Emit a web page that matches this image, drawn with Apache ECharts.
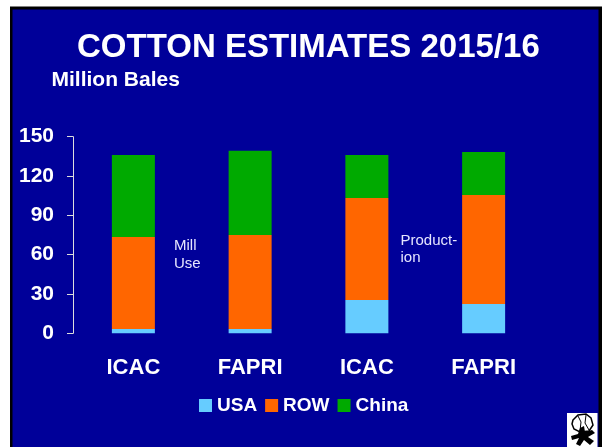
<!DOCTYPE html>
<html>
<head>
<meta charset="utf-8">
<script src="https://cdn.jsdelivr.net/npm/echarts@6/dist/echarts.min.js"></script>
<style>
html,body{margin:0;padding:0;background:#fff;}
#c{width:602px;height:447px;}
</style>
</head>
<body>
<div id="c"></div>
<script>
var categories = ['ICAC', 'FAPRI', 'ICAC', 'FAPRI'];
var usa = [3.3, 3.3, 25.4, 22.4];
var row = [70.2, 71.7, 77.9, 83.2];
var china = [62.5, 64.2, 32.7, 32.8];
var yTicks = [0, 30, 60, 90, 120, 150];

var FONT = '"Liberation Sans", Arial, sans-serif';
var chart = echarts.init(document.getElementById('c'), null, {renderer: 'canvas'});

var option = {
  backgroundColor: '#ffffff',
  animation: false,
  title: [
    {text: 'COTTON ESTIMATES 2015/16', left: 72, top: 26, padding: 5,
     textStyle: {color: '#ffffff', fontFamily: FONT, fontWeight: 'bold', fontSize: 33}},
    {text: 'Million Bales', left: 46.5, top: 65, padding: 5,
     textStyle: {color: '#ffffff', fontFamily: FONT, fontWeight: 'bold', fontSize: 21}}
  ],
  legend: {
    left: 194, top: 391, padding: 5,
    itemWidth: 13, itemHeight: 13, itemGap: 8,
    icon: 'rect',
    textStyle: {color: '#ffffff', fontFamily: FONT, fontWeight: 'bold', fontSize: 19, padding: [0, 0, 0, 0]},
    data: ['USA', 'ROW', 'China']
  },
  grid: {left: 75, width: 467, top: 136.7, height: 196.6, containLabel: false},
  xAxis: {
    type: 'category',
    data: categories,
    axisLine: {show: false},
    axisTick: {show: false},
    axisLabel: {color: '#ffffff', fontFamily: FONT, fontWeight: 'bold', fontSize: 22, margin: 24}
  },
  yAxis: {
    type: 'value',
    min: 0, max: 150, interval: 30,
    offset: 2,
    axisLine: {show: true, lineStyle: {color: '#dddddd', width: 1}},
    axisTick: {show: true, length: 6, lineStyle: {color: '#dddddd'}},
    splitLine: {show: false},
    axisLabel: {color: '#ffffff', fontFamily: FONT, fontWeight: 'bold', fontSize: 21, margin: 19,
      formatter: function (v) { return yTicks.indexOf(v) >= 0 ? String(v) : ''; }}
  },
  series: [
    {name: 'USA', type: 'bar', stack: 's', data: usa, barWidth: 43, itemStyle: {color: '#66CCFF'}},
    {name: 'ROW', type: 'bar', stack: 's', data: row, barWidth: 43, itemStyle: {color: '#FF6600'}},
    {name: 'China', type: 'bar', stack: 's', data: china, barWidth: 43, itemStyle: {color: '#00AA00'}}
  ],
  graphic: [
    {type: 'rect', z: -10, silent: true, shape: {x: 10, y: 6.5, width: 592, height: 441}, style: {fill: '#000000'}},
    {type: 'rect', z: -9, silent: true, shape: {x: 12.5, y: 9.5, width: 586, height: 438}, style: {fill: '#000099'}},
    {type: 'text', z: 10, left: 174, top: 237.5,
     style: {text: 'Mill\nUse', fill: '#E6E6FF', font: '15px ' + FONT, lineHeight: 17.5}},
    {type: 'text', z: 10, left: 400.5, top: 232.5,
     style: {text: 'Product-\nion', fill: '#E6E6FF', font: '15px ' + FONT, lineHeight: 17}},
    {type: 'group', z: 20, children: [
      {type: 'rect', shape: {x: 567, y: 413, width: 30.5, height: 34}, style: {fill: '#ffffff'}},
      {type: 'polygon', shape: {points: [[573,420],[578,415],[586,414],[591,418],[593,425],[589,431],[580,432],[574,429],[572,424]]},
       style: {fill: '#ffffff', stroke: '#000000', lineWidth: 1.5}},
      {type: 'polyline', shape: {points: [[578,416],[581,422],[580,431]]}, style: {stroke: '#000000', lineWidth: 1, fill: null}},
      {type: 'polyline', shape: {points: [[586,415],[585,423],[589,430]]}, style: {stroke: '#000000', lineWidth: 1, fill: null}},
      {type: 'polygon', shape: {points: [[580,428],[584,426],[585,432],[592,430],[595,433],[588,437],[594,441],[590,445],[584,440],[580,446],[576,444],[579,438],[572,440],[571,436],[578,434]]},
       style: {fill: '#000000'}}
    ]}
  ]
};
chart.setOption(option);
</script>
</body>
</html>
